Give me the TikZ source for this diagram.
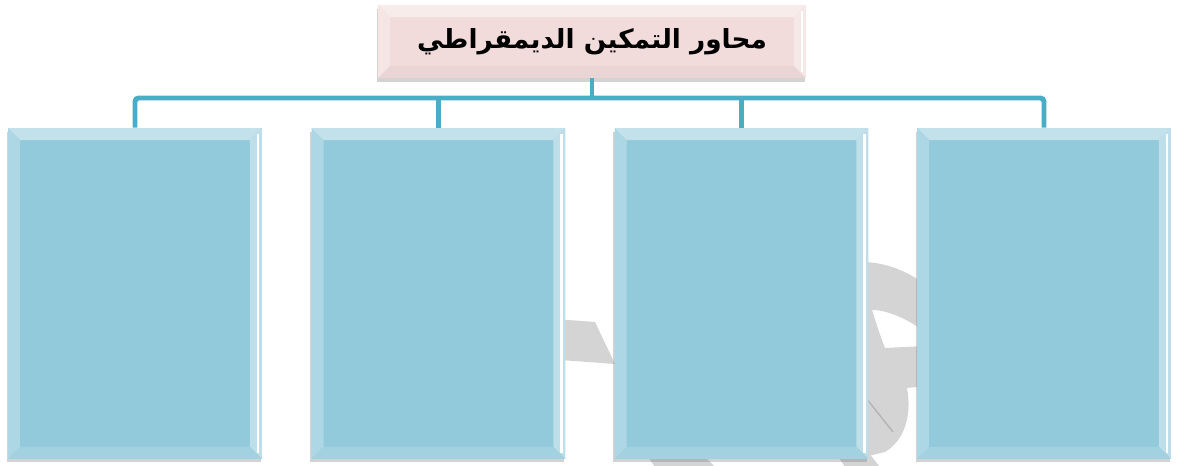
\documentclass[tikz,border=0pt]{standalone}
\usepackage{fontspec}
\newfontfamily\arabicfont[Script=Arabic]{DejaVu Sans}
\TeXXeTstate=1
\usetikzlibrary{calc,shadows}
\definecolor{linkteal}{HTML}{4BACC6}
\definecolor{boxblue}{HTML}{92C9DB}
\definecolor{titlepink}{HTML}{F2DCDB}
\definecolor{markgray}{HTML}{D4D4D4}
\tikzset{
  bevelled/.style n args={4}{path picture={
      \coordinate (p1) at (path picture bounding box.north west);
      \coordinate (p2) at (path picture bounding box.north east);
      \coordinate (p3) at (path picture bounding box.south east);
      \coordinate (p4) at (path picture bounding box.south west);
      \fill[#1] (p1) -- (p2) -- ($(p2)+(-0.24cm,-0.24cm)$) -- ($(p1)+(0.24cm,-0.24cm)$) -- cycle;
      \fill[#2] (p1) -- (p4) -- ($(p4)+(0.24cm,0.24cm)$) -- ($(p1)+(0.24cm,-0.24cm)$) -- cycle;
      \fill[#3] (p2) -- (p3) -- ($(p3)+(-0.24cm,0.24cm)$) -- ($(p2)+(-0.24cm,-0.24cm)$) -- cycle;
      \fill[#4] (p4) -- (p3) -- ($(p3)+(-0.24cm,0.24cm)$) -- ($(p4)+(0.24cm,0.24cm)$) -- cycle;
      \draw[white,line width=1.2pt] ($(p2)+(-0.08cm,-0.12cm)$) -- ($(p3)+(-0.08cm,0.12cm)$);
    }},
  axisbox/.style={fill=boxblue,inner sep=0pt,minimum width=5.08cm,minimum height=6.62cm,
    drop shadow={shadow xshift=-0.6pt,shadow yshift=-2pt,opacity=0.35},
    bevelled={{fill=boxblue!55!white}}{{fill=boxblue!75!white}}{{fill=boxblue!60!white}}{{fill=boxblue!85!white}}},
  titlebox/.style={fill=titlepink,inner sep=0pt,minimum width=8.56cm,minimum height=1.46cm,
    drop shadow={shadow xshift=-0.6pt,shadow yshift=-2pt,opacity=0.35},
    bevelled={{fill=titlepink!55!white}}{{fill=titlepink!75!white}}{{fill=titlepink!65!white}}{{fill=titlepink!92!gray}}},
  link/.style={draw=linkteal,line width=2.8pt,rounded corners=2pt},
}
\begin{document}
\begin{tikzpicture}[x=0.02cm,y=-0.02cm]
  \useasboundingbox (0,0) rectangle (1177,466);
  % faint mark behind the boxes
  \fill[markgray] (555,319) -- (595,322) -- (615,364) -- (560,360) -- cycle;
  \fill[markgray,even odd rule]
    (862,262) .. controls (890,262) and (915,275) .. (935,292) -- (935,385) -- (907,388)
      .. controls (912,415) and (905,440) .. (885,452) -- (860,458) -- cycle
    (872,310) .. controls (890,310) and (912,322) .. (925,332) -- (925,346) -- (885,348)
      .. controls (880,335) .. (872,310) -- cycle;
  \draw[markgray!85!black,line width=0.8pt] (866,398) -- (893,432);
  \fill[markgray] (648,457) -- (705,457) -- (715,467) -- (655,467) -- cycle;
  \fill[markgray] (835,452) -- (868,452) -- (880,467) -- (845,467) -- cycle;

  \node[titlebox] (title) at (592,41.5) {\arabicfont\bfseries\fontsize{15}{18}\selectfont\beginR محاور التمكين الديمقراطي\endR};
  \node[axisbox] (b1) at (135,293.5) {};
  \node[axisbox] (b2) at (438.5,293.5) {};
  \node[axisbox] (b3) at (741.5,293.5) {};
  \node[axisbox] (b4) at (1044,293.5) {};

  \coordinate (bar) at (592,98);
  \draw[link] (b1.north) -- (b1.north |- bar) -- (b4.north |- bar) -- (b4.north);
  \draw[link] (title.south) -- (bar);
  \draw[link] (b2.north) -- (b2.north |- bar);
  \draw[link] (b3.north) -- (b3.north |- bar);
\end{tikzpicture}
\end{document}
